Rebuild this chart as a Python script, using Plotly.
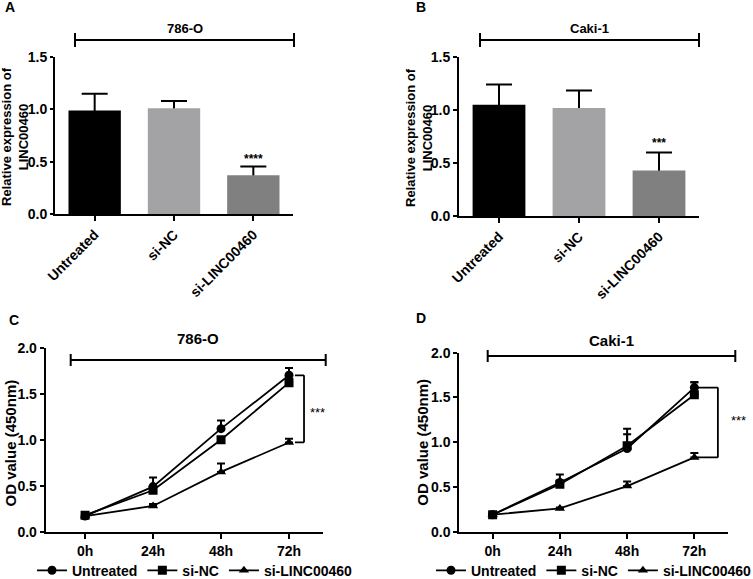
import plotly.graph_objects as go

# ---------------- data ----------------
bar_categories = ["Untreated", "si-NC", "si-LINC00460"]
bar_colors = ["#000000", "#a3a3a6", "#808080"]

a_means = [0.99, 1.01, 0.37]
a_err = [0.16, 0.07, 0.085]
b_means = [1.05, 1.02, 0.43]
b_err = [0.19, 0.165, 0.17]

time_labels = ["0h", "24h", "48h", "72h"]
hours = [0, 24, 48, 72]
series_names = ["Untreated", "si-NC", "si-LINC00460"]
series_symbols = ["circle", "square", "triangle-up"]

c_untreated = [0.17, 0.49, 1.12, 1.70]
c_untreated_err = [0.01, 0.10, 0.09, 0.08]
c_sinc = [0.18, 0.45, 1.00, 1.62]
c_sinc_err = [0.01, 0.04, 0.03, 0.04]
c_silinc = [0.17, 0.28, 0.65, 0.97]
c_silinc_err = [0.01, 0.02, 0.09, 0.04]

d_untreated = [0.19, 0.55, 0.93, 1.61]
d_untreated_err = [0.01, 0.09, 0.16, 0.06]
d_sinc = [0.19, 0.53, 0.96, 1.53]
d_sinc_err = [0.01, 0.04, 0.19, 0.14]
d_silinc = [0.19, 0.26, 0.51, 0.83]
d_silinc_err = [0.01, 0.01, 0.05, 0.05]

W, H = 753, 579
FONT = "Liberation Sans, Arial, sans-serif"


def px(x):
    return x / W


def py(y):
    return 1 - y / H


fig = go.Figure()

# ---------------- bar panels ----------------
for idx, (means, errs) in enumerate([(a_means, a_err), (b_means, b_err)]):
    ax = "" if idx == 0 else "2"
    xs = list(range(len(bar_categories)))
    # error bars (drawn first so the real bars hide the lower cap)
    fig.add_trace(go.Bar(
        x=xs, y=means, width=0.66,
        marker=dict(color="rgba(0,0,0,0)", line=dict(width=0)),
        error_y=dict(type="data", symmetric=False, array=errs,
                     arrayminus=[0.03] * len(means), color="black",
                     thickness=2, width=13),
        xaxis="x" + ax, yaxis="y" + ax, showlegend=False, hoverinfo="skip"))
    fig.add_trace(go.Bar(
        x=xs, y=means, width=0.66,
        marker=dict(color=bar_colors, line=dict(width=0)),
        xaxis="x" + ax, yaxis="y" + ax, showlegend=False))

# ---------------- line panels ----------------
line_sets = [
    ("3", [(c_untreated, c_untreated_err), (c_sinc, c_sinc_err), (c_silinc, c_silinc_err)], "legend"),
    ("4", [(d_untreated, d_untreated_err), (d_sinc, d_sinc_err), (d_silinc, d_silinc_err)], "legend2"),
]
for ax, sets, leg in line_sets:
    for name, sym, (vals, errs) in zip(series_names, series_symbols, sets):
        fig.add_trace(go.Scatter(
            x=hours, y=vals, mode="lines+markers", name=name,
            line=dict(color="black", width=1.8),
            marker=dict(symbol=sym, size=9, color="black"),
            error_y=dict(type="data", symmetric=False, array=errs,
                         arrayminus=[0] * len(vals), color="black",
                         thickness=2, width=4),
            xaxis="x" + ax, yaxis="y" + ax, legend=leg))

tickfont = dict(family=FONT, size=14, color="black", weight="bold")
tickfont_l = dict(family=FONT, size=14, color="black", weight="bold")
axis_common = dict(showline=True, linewidth=2, linecolor="black", ticks="outside",
                   tickwidth=2, tickcolor="black", showgrid=False,
                   zeroline=False, fixedrange=True, automargin=False)
legfont = dict(family=FONT, size=14, color="black", weight="bold")

layout = dict(
    width=W, height=H, margin=dict(l=0, r=0, t=0, b=0, autoexpand=False),
    paper_bgcolor="white", plot_bgcolor="white", barmode="overlay",
    font=dict(family=FONT, color="black"),
    xaxis=dict(domain=[px(55), px(293)], range=[-0.5, 2.5], tickvals=[0, 1, 2],
               ticktext=bar_categories, tickangle=-45, tickfont=tickfont, ticklen=5,
               anchor="y", **axis_common),
    yaxis=dict(domain=[py(214), py(57)], range=[0, 1.5], dtick=0.5, tickformat=".1f",
               tickfont=tickfont, ticklen=3, anchor="x", **axis_common),
    xaxis2=dict(domain=[px(459), px(699)], range=[-0.5, 2.5], tickvals=[0, 1, 2],
                ticktext=bar_categories, tickangle=-45, tickfont=tickfont, ticklen=5,
                anchor="y2", **axis_common),
    yaxis2=dict(domain=[py(216), py(57)], range=[0, 1.5], dtick=0.5, tickformat=".1f",
                tickfont=tickfont, ticklen=4, anchor="x2", **axis_common),
    xaxis3=dict(domain=[px(45.7), px(323)], range=[-13.9, 84.0], tickvals=hours,
                ticktext=time_labels, tickfont=tickfont_l, ticklen=5, anchor="y3", **axis_common),
    yaxis3=dict(domain=[py(531.7), py(347.7)], range=[0, 2], dtick=0.5, tickformat=".1f",
                tickfont=tickfont_l, ticklen=4, anchor="x3", **axis_common),
    xaxis4=dict(domain=[px(459.3), px(727.7)], range=[-11.9, 83.9], tickvals=hours,
                ticktext=time_labels, tickfont=tickfont_l, ticklen=5, anchor="y4", **axis_common),
    yaxis4=dict(domain=[py(531.7), py(352.7)], range=[0, 2], dtick=0.5, tickformat=".1f",
                tickfont=tickfont_l, ticklen=4, anchor="x4", **axis_common),
    legend=dict(orientation="h", xref="container", yref="container",
                x=px(32), y=py(570.7), xanchor="left", yanchor="middle",
                font=legfont, bgcolor="rgba(0,0,0,0)", itemwidth=30, traceorder="normal"),
    legend2=dict(orientation="h", xref="container", yref="container",
                 x=px(431), y=py(570.7), xanchor="left", yanchor="middle",
                 font=legfont, bgcolor="rgba(0,0,0,0)", itemwidth=30, traceorder="normal"),
)
fig.update_layout(**layout)

shapes = []
annotations = []


def group_bracket(x0, x1, y, cap, title, ty, tsize):
    shapes.append(dict(type="line", xref="paper", yref="paper", x0=px(x0), x1=px(x1),
                       y0=py(y), y1=py(y), line=dict(color="black", width=2)))
    for xx in (x0, x1):
        shapes.append(dict(type="line", xref="paper", yref="paper", x0=px(xx), x1=px(xx),
                           y0=py(y - cap), y1=py(y + cap), line=dict(color="black", width=2)))
    annotations.append(dict(text=title, xref="paper", yref="paper", x=px((x0 + x1) / 2),
                            y=py(ty), xanchor="center", yanchor="middle", showarrow=False,
                            font=dict(family=FONT, size=tsize, color="black", weight="bold")))


group_bracket(75, 294, 40, 7, "786-O", 29, 13)
group_bracket(480, 699, 40, 7, "Caki-1", 29, 13)
group_bracket(70.7, 325.7, 360, 6, "786-O", 338, 15)
group_bracket(487.7, 735.3, 356, 6, "Caki-1", 340, 15)


def sig_bracket(ax, xa, xb, ytop, ybot):
    ln = dict(color="black", width=1.8)
    shapes.append(dict(type="line", xref="x" + ax, yref="y" + ax, x0=xb, x1=xb, y0=ytop, y1=ybot, line=ln))
    shapes.append(dict(type="line", xref="x" + ax, yref="y" + ax, x0=xa, x1=xb, y0=ytop, y1=ytop, line=ln))
    shapes.append(dict(type="line", xref="x" + ax, yref="y" + ax, x0=xa, x1=xb, y0=ybot, y1=ybot, line=ln))


sig_bracket("3", 74.1, 77.3, c_untreated[3], c_silinc[3])
sig_bracket("4", 73.2, 80.4, d_untreated[3], d_silinc[3])

star_font = dict(family=FONT, size=13, color="black")
annotations.append(dict(text="***", xref="paper", yref="paper", x=px(317), y=py(412),
                        showarrow=False, xanchor="center", yanchor="middle", font=star_font))
annotations.append(dict(text="***", xref="paper", yref="paper", x=px(738), y=py(420),
                        showarrow=False, xanchor="center", yanchor="middle", font=star_font))

# stars over bars
annotations.append(dict(text="****", xref="x", yref="y", x=2, y=0.53, showarrow=False,
                        yanchor="middle", font=dict(family=FONT, size=12, color="black", weight="bold")))
annotations.append(dict(text="***", xref="x2", yref="y2", x=2, y=0.69, showarrow=False,
                        yanchor="middle", font=dict(family=FONT, size=12, color="black", weight="bold")))

# axis titles
for text, x, y, size in [
    ("Relative expression of<br>LINC00460", 15, 137, 13),
    ("Relative expression of<br>LINC00460", 419, 137, 13),
    ("OD value (450nm)", 9.5, 443, 15),
    ("OD value (450nm)", 423, 441.7, 15),
]:
    annotations.append(dict(text=text, xref="paper", yref="paper", x=px(x), y=py(y),
                            textangle=-90, showarrow=False, xanchor="center", yanchor="middle",
                            font=dict(family=FONT, size=size, color="black", weight="bold")))

# panel letters
for text, x, y in [("A", 10, 7), ("B", 421, 7), ("C", 14, 320), ("D", 421, 318)]:
    annotations.append(dict(text=text, xref="paper", yref="paper", x=px(x), y=py(y),
                            showarrow=False, xanchor="center", yanchor="middle",
                            font=dict(family=FONT, size=14, color="black", weight="bold")))

fig.update_layout(shapes=shapes, annotations=annotations)
fig.write_html("out.html", config={"displayModeBar": False},
               post_script="document.body.style.margin='0';document.body.style.overflow='hidden';")
